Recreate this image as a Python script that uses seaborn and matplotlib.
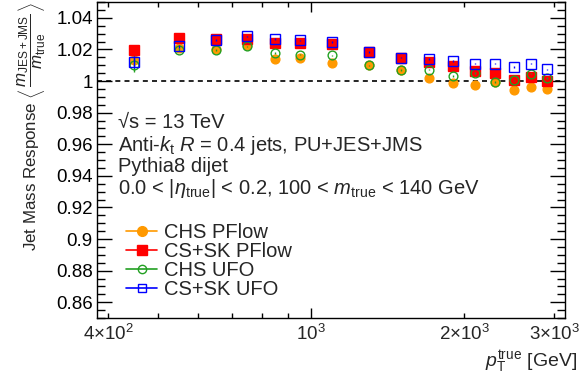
import matplotlib
matplotlib.use("Agg")
import matplotlib.pyplot as plt
from matplotlib.lines import Line2D
from matplotlib.ticker import FixedLocator, MultipleLocator, FuncFormatter, NullFormatter
import seaborn as sns
import pandas as pd

sns.set_theme(style="ticks")
plt.rcParams['font.family'] = ['Liberation Sans', 'DejaVu Sans']
plt.rcParams['mathtext.fontset'] = 'custom'
plt.rcParams['mathtext.rm'] = 'Liberation Sans'
plt.rcParams['mathtext.it'] = 'Liberation Sans:italic'
plt.rcParams['mathtext.bf'] = 'Liberation Sans:bold'

# ---- data ----
pt_true = [450, 550, 650, 750, 850, 950, 1100, 1300, 1500, 1700, 1900, 2100, 2300, 2500, 2700, 2900]
chs_pflow = [1.0135, 1.0211, 1.0204, 1.0225, 1.0141, 1.0148, 1.0114, 1.0099, 1.0068, 1.0019, 0.9990, 0.9977, 0.9992, 0.9941, 0.9962, 0.9952]
cssk_pflow = [1.0194, 1.0274, 1.0267, 1.0267, 1.0240, 1.0240, 1.0236, 1.0183, 1.0148, 1.0120, 1.0093, 1.0063, 1.0053, 1.0009, 1.0025, 0.9998]
chs_ufo = [1.0103, 1.0198, 1.0194, 1.0219, 1.0177, 1.0167, 1.0162, 1.0099, 1.0068, 1.0072, 1.0030, 1.0050, 0.9994, 1.0004, 1.0047, 1.0019]
cssk_ufo = [1.0120, 1.0219, 1.0257, 1.0282, 1.0267, 1.0257, 1.0246, 1.0183, 1.0148, 1.0141, 1.0126, 1.0110, 1.0110, 1.0088, 1.0110, 1.0074]
err_chs_pflow = [0.0030, 0.0006, 0.0005, 0.0005, 0.0005, 0.0005, 0.0005, 0.0005, 0.0005, 0.0005, 0.0005, 0.0005, 0.0005, 0.0005, 0.0005, 0.0005]
err_cssk_pflow = [0.0033, 0.0008, 0.0006, 0.0005, 0.0005, 0.0005, 0.0005, 0.0005, 0.0005, 0.0005, 0.0005, 0.0005, 0.0005, 0.0005, 0.0005, 0.0005]
err_chs_ufo = [0.0044, 0.0008, 0.0006, 0.0005, 0.0005, 0.0005, 0.0005, 0.0005, 0.0005, 0.0005, 0.0005, 0.0005, 0.0005, 0.0005, 0.0005, 0.0005]
err_cssk_ufo = [0.0040, 0.0008, 0.0006, 0.0005, 0.0005, 0.0005, 0.0005, 0.0005, 0.0005, 0.0005, 0.0005, 0.0005, 0.0005, 0.0005, 0.0005, 0.0005]
series_names = ["CHS PFlow", "CS+SK PFlow", "CHS UFO", "CS+SK UFO"]
x_tick_values = [400, 1000, 2000, 3000]
x_tick_labels = [r"$4{\times}10^{2}$", r"$10^{3}$", r"$2{\times}10^{3}$", r"$3{\times}10^{3}$"]
info_lines = ["\u221As = 13 TeV",
              r"Anti-$k_{\mathrm{t}}$ $R$ = 0.4 jets, PU+JES+JMS",
              r"Pythia8 dijet",
              r"0.0 < |$\eta_{\mathrm{true}}$| < 0.2, 100 < $m_{\mathrm{true}}$ < 140 GeV"]

values = [chs_pflow, cssk_pflow, chs_ufo, cssk_ufo]
errors = [err_chs_pflow, err_cssk_pflow, err_chs_ufo, err_cssk_ufo]
colors = ["#ff9900", "#ff0000", "#22a022", "#0000ff"]
markers = ["o", "s", "o", "s"]
filled = [True, True, False, False]

df = pd.concat([pd.DataFrame({"pt": pt_true, "resp": v, "err": e, "series": n})
                for v, e, n in zip(values, errors, series_names)], ignore_index=True)

W, H = 587, 383
FS = 14.5
TFS = 13.5
fig = plt.figure(figsize=(W / 100, H / 100), dpi=100)
ax = fig.add_axes([97 / W, 1 - 318 / H, (565 - 97) / W, (318 - 2) / H])
ax.set_xscale("log")

handles = []
for i, name in enumerate(series_names):
    sub = df[df["series"] == name]
    c = colors[i]
    ax.errorbar(sub["pt"], sub["resp"], yerr=sub["err"], fmt="none", ecolor=c,
                elinewidth=1.0, capsize=0, zorder=2 + i)
    sns.lineplot(data=sub, x="pt", y="resp", ax=ax, color=c, linestyle="", marker=markers[i],
                 markersize=6.3 if markers[i] == "o" else 6.6,
                 markerfacecolor=c if filled[i] else "none", markeredgecolor=c,
                 markeredgewidth=1.0, errorbar=None, legend=False, zorder=3 + i)
    handles.append(Line2D([0], [0], color=c, lw=1.2, marker=markers[i],
                          markersize=7 if filled[i] else 6,
                          markerfacecolor=c if filled[i] else "none",
                          markeredgecolor=c, markeredgewidth=1.0))

ax.axhline(1.0, color="black", linestyle=(0, (3, 2.5)), lw=1.2, zorder=1)

ax.set_xlim(380, 3150)
ax.set_ylim(0.85, 1.05)

# ticks
ax.xaxis.set_major_locator(FixedLocator([1000]))
ax.xaxis.set_minor_locator(FixedLocator([400, 500, 600, 700, 800, 900, 2000, 3000]))
ax.xaxis.set_major_formatter(NullFormatter())
ax.xaxis.set_minor_formatter(NullFormatter())
ax.yaxis.set_major_locator(MultipleLocator(0.02))
ax.yaxis.set_minor_locator(MultipleLocator(0.005))
ax.yaxis.set_major_formatter(FuncFormatter(lambda v, p: "%g" % round(v, 4)))
ax.tick_params(axis="both", which="both", direction="in", top=True, right=True, colors="black", width=1.0)
ax.tick_params(axis="y", which="major", length=11, labelsize=TFS, pad=3)
ax.tick_params(axis="y", which="minor", length=5.5)
ax.tick_params(axis="x", which="major", length=7.5)
ax.tick_params(axis="x", which="minor", length=3.5)
for sp in ax.spines.values():
    sp.set_linewidth(1.0)
    sp.set_color("black")

# x tick labels as text (ROOT style)
for v, lab in zip(x_tick_values, x_tick_labels):
    ax.text(v, -0.05, lab, transform=ax.get_xaxis_transform(), ha="center", va="center",
            fontsize=TFS)

ax.set_xlabel("")
ax.set_ylabel(r"Jet Mass Response $\left\langle\,\dfrac{m_{\mathrm{JES+JMS}}}{m_{\mathrm{true}}}\,\right\rangle$",
              fontsize=12.2, loc="top", labelpad=6)
fig.text(577 / W, 1 - 362 / H, r"$p_{\mathrm{T}}^{\mathrm{true}}$ [GeV]", ha="right", va="center", fontsize=TFS + 0.5)

baselines = [128, 151, 172, 194]
for txt, yb in zip(info_lines, baselines):
    fig.text(118 / W, 1 - yb / H, txt, ha="left", va="baseline", fontsize=FS)

leg = fig.legend(handles, series_names, loc="center left", bbox_to_anchor=(126 / W, 1 - 261 / H),
                 bbox_transform=fig.transFigure, frameon=False, fontsize=FS,
                 handlelength=1.55, handletextpad=0.35, labelspacing=0.0, borderpad=0, borderaxespad=0)

fig.savefig("out.png", dpi=100)
